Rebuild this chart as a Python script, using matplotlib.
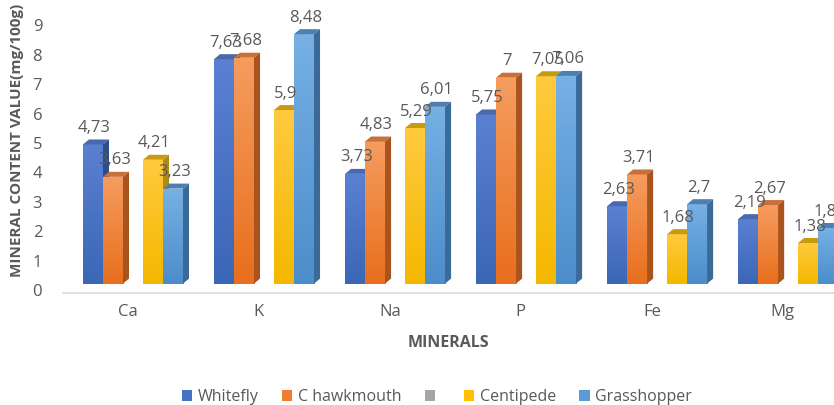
import numpy as np
import matplotlib
matplotlib.use("Agg")
import matplotlib.pyplot as plt
from matplotlib.patches import Polygon, Patch
from matplotlib.colors import LinearSegmentedColormap

plt.rcParams['font.family'] = ['Open Sans', 'DejaVu Sans']

minerals = ["Ca", "K", "Na", "P", "Fe", "Mg"]
series = ["Whitefly", "C hawkmouth", "", "Centipede", "Grasshopper"]
whitefly = [4.73, 7.63, 3.73, 5.75, 2.63, 2.19]
hawkmouth = [3.63, 7.68, 4.83, 7.00, 3.71, 2.67]
blank = [None, None, None, None, None, None]
centipede = [4.21, 5.90, 5.29, 7.05, 1.68, 1.38]
grasshopper = [3.23, 8.48, 6.01, 7.06, 2.70, 1.89]
values = [whitefly, hawkmouth, blank, centipede, grasshopper]

# legend colour, front gradient (top, bottom), top face, side face
legend_cols = ["#4472C4", "#ED7D31", "#A5A5A5", "#FFC000", "#5B9BD5"]
shades = [
    ("#5A80D2", "#3C66B6", "#4A68AE", "#2E4C8C"),
    ("#F59C5E", "#E86F1D", "#C8703A", "#A9541F"),
    (None, None, None, None),
    ("#FFCA3E", "#F4B800", "#C99A10", "#B08A12"),
    ("#76B0E4", "#4C8DCB", "#4F7FB0", "#3B6A98"),
]

txt = "#595959"
bw = 20 / 131          # bar width in category units
lift = 0.22            # 3D floor offset
dx, dy = 0.046, 0.17   # depth of the bar

fig = plt.figure(figsize=(8.34, 4.05), dpi=100)
ax = fig.add_axes([63 / 834, 112 / 405, 771 / 834, 275 / 405])


def draw_bar(x0, v, cols, z):
    x1 = x0 + bw
    top = lift + v
    cmap = LinearSegmentedColormap.from_list("g", [cols[1], cols[0]])
    grad = np.linspace(0, 1, 64).reshape(-1, 1)
    ax.imshow(grad, cmap=cmap, origin="lower", aspect="auto",
              extent=[x0, x1, lift, top], zorder=z, interpolation="bilinear")
    ax.add_patch(Polygon([(x0, top), (x0 + dx, top + dy), (x1 + dx, top + dy), (x1, top)],
                         closed=True, facecolor=cols[2], edgecolor="none", zorder=z))
    ax.add_patch(Polygon([(x1, lift), (x1 + dx, lift + dy), (x1 + dx, top + dy), (x1, top)],
                         closed=True, facecolor=cols[3], edgecolor="none", zorder=z))


for i in range(len(minerals)):
    for j, vals in enumerate(values):
        v = vals[i]
        if v is None:
            continue
        x0 = i + (j - 2.5) * bw
        draw_bar(x0, v, shades[j], 2 + i + j * 0.1)
        ax.text(x0 + bw / 2 + 0.01, v + 0.78, f"{v:g}".replace(".", ","), ha="center", va="center",
                fontsize=12, color=txt, zorder=20)

ax.set_xlim(-0.534, 5.35)
ax.set_ylim(-0.1, 9.25)
ax.set_yticks(range(10))
ax.set_xticks([i - 0.04 for i in range(len(minerals))])
ax.set_xticklabels(minerals)
ax.tick_params(axis="both", length=0, labelsize=12, labelcolor=txt)
ax.tick_params(axis="x", pad=8)
ax.tick_params(axis="y", pad=15)
for s in ["top", "right", "left"]:
    ax.spines[s].set_visible(False)
ax.spines["bottom"].set_color("#D9D9D9")
ax.spines["bottom"].set_linewidth(1.2)

ax.set_xlabel("MINERALS", fontsize=11.5, fontweight="bold", color=txt, labelpad=11)
fig.text(17 / 834, 1 - 140 / 405, "MINERAL CONTENT VALUE(mg/100g)", rotation=90,
         ha="center", va="center", fontsize=11, fontweight="bold", color=txt)

handles = [Patch(facecolor=c, edgecolor="none") for c in legend_cols]
fig.legend(handles, series, loc="center", bbox_to_anchor=(437 / 834, 1 - 397 / 405),
           ncol=5, frameon=False, handlelength=0.65, handleheight=0.65, handletextpad=0.35,
           columnspacing=1.45, fontsize=11.5, labelcolor=txt)

fig.savefig("out.png", dpi=100)
